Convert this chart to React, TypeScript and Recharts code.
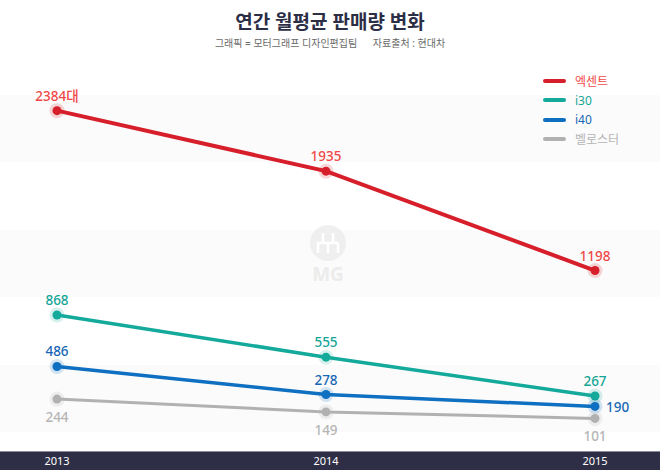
import React from 'react';
import {
  LineChart,
  Line,
  XAxis,
  YAxis,
  CartesianGrid,
  LabelList,
} from 'recharts';

const years = ['2013', '2014', '2015'];
const accent = [2384, 1935, 1198];
const i30 = [868, 555, 267];
const i40 = [486, 278, 190];
const veloster = [244, 149, 101];
const yTicks = [0, 500, 1000, 1500, 2000, 2500];

const FONT = "'Noto Sans', 'Noto Sans CJK KR', sans-serif";

const SERIES = [
  { key: 'accent', name: '엑센트', line: '#d71f2b', text: '#f04848', width: 4 },
  { key: 'i30', name: 'i30', line: '#14aa9b', text: '#14a596', width: 3.5 },
  { key: 'i40', name: 'i40', line: '#0f6fc0', text: '#1767b5', width: 3.5 },
  { key: 'veloster', name: '벨로스터', line: '#b1b1b1', text: '#b5b5b5', width: 3 },
];

const chartData = years.map((year, i) => ({
  year,
  accent: accent[i],
  i30: i30[i],
  i40: i40[i],
  veloster: veloster[i],
}));

const makeDot = (color: string) => (props: any) => {
  const { cx, cy, index } = props;
  if (cx == null || cy == null) return <g key={index} />;
  return (
    <g key={`dot-${index}`}>
      <circle cx={cx} cy={cy} r={7.5} fill={color} fillOpacity={0.18} />
      <circle cx={cx} cy={cy} r={4.5} fill={color} />
    </g>
  );
};

const makeLabel = (key: string, color: string) => (props: any) => {
  const { x, y, value, index } = props;
  let tx = x;
  let ty = y - 10;
  let anchor: 'middle' | 'start' = 'middle';
  let text = String(value);
  if (key === 'accent' && index === 0) text = `${value}대`;
  if (key === 'veloster') ty = y + 23;
  if (key === 'i40' && index === 2) {
    tx = x + 11;
    ty = y + 6;
    anchor = 'start';
  }
  return (
    <text
      key={`lbl-${key}-${index}`}
      x={tx}
      y={ty}
      textAnchor={anchor}
      fill={color}
      fontSize={13.5}
      fontWeight={500}
      fontFamily={FONT}
    >
      {text}
    </text>
  );
};

const YearTick = (props: any) => {
  const { x, payload } = props;
  return (
    <text x={x} y={465} textAnchor="middle" fill="#ffffff" fontSize={11} fontFamily={FONT}>
      {payload.value}
    </text>
  );
};

const LegendBox = () => (
  <div style={{ position: 'absolute', left: 543, top: 71, fontFamily: FONT }}>
    {SERIES.map((s) => (
      <div key={s.key} style={{ display: 'flex', alignItems: 'center', height: 19.5 }}>
        <div
          style={{ width: 23, height: 4, borderRadius: 2, background: s.line, marginRight: 9 }}
        />
        <span style={{ color: s.text, fontSize: 12 }}>{s.name}</span>
      </div>
    ))}
  </div>
);

export default function App() {
  return (
    <div
      style={{
        position: 'absolute',
        left: 0,
        top: 0,
        width: 660,
        height: 470,
        background: '#ffffff',
        overflow: 'hidden',
        fontFamily: FONT,
      }}
    >
      <div
        style={{
          position: 'absolute',
          left: 0,
          right: 0,
          top: 7,
          textAlign: 'center',
          fontSize: 19,
          fontWeight: 700,
          color: '#2b2e45',
        }}
      >
        연간 월평균 판매량 변화
      </div>
      <div
        style={{
          position: 'absolute',
          left: 0,
          right: 0,
          top: 35,
          textAlign: 'center',
          fontSize: 10,
          color: '#6a6a6a',
          whiteSpace: 'pre',
        }}
      >
        {'그래픽 = 모터그래프 디자인편집팀      자료출처 : 현대차'}
      </div>
      <div
        style={{
          position: 'absolute',
          left: 0,
          top: 451,
          width: 660,
          height: 19,
          background: '#2e2f46',
          borderTop: '1px solid #8a8b9a',
        }}
      />
      <div style={{ position: 'absolute', left: 0, top: 0 }}>
        <LineChart
          width={660}
          height={470}
          data={chartData}
          margin={{ top: 95, right: 0, bottom: 0, left: 0 }}
        >
          <CartesianGrid
            vertical={false}
            stroke="none"
            horizontalFill={['#fbfbfb', '#ffffff']}
            fillOpacity={1}
          />
          <XAxis
            dataKey="year"
            height={38}
            axisLine={false}
            tickLine={false}
            tick={<YearTick />}
            interval={0}
            padding={{ left: 57, right: 65 }}
          />
          <YAxis hide domain={[0, 2500]} ticks={yTicks} />
          {SERIES.map((s) => (
            <Line
              key={s.key}
              dataKey={s.key}
              name={s.name}
              stroke={s.line}
              strokeWidth={s.width}
              dot={makeDot(s.line)}
              activeDot={false}
              isAnimationActive={false}
            >
              <LabelList dataKey={s.key} content={makeLabel(s.key, s.text)} />
            </Line>
          ))}
        </LineChart>
      </div>
      <svg
        width={660}
        height={470}
        style={{ position: 'absolute', left: 0, top: 0, pointerEvents: 'none' }}
      >
        <circle cx={328} cy={243} r={18} fill="#ececec" fillOpacity={0.8} />
        <path
          d="M318 253 V243 H338 M323 243 V233 M333 243 V233 M328 253 V243 M338 253 V243"
          stroke="#ffffff"
          strokeWidth={2.5}
          fill="none"
        />
        <text
          x={328}
          y={281}
          textAnchor="middle"
          fontSize={19}
          fontWeight={700}
          fill="#ececec"
          fontFamily={FONT}
        >
          MG
        </text>
      </svg>
      <LegendBox />
    </div>
  );
}
